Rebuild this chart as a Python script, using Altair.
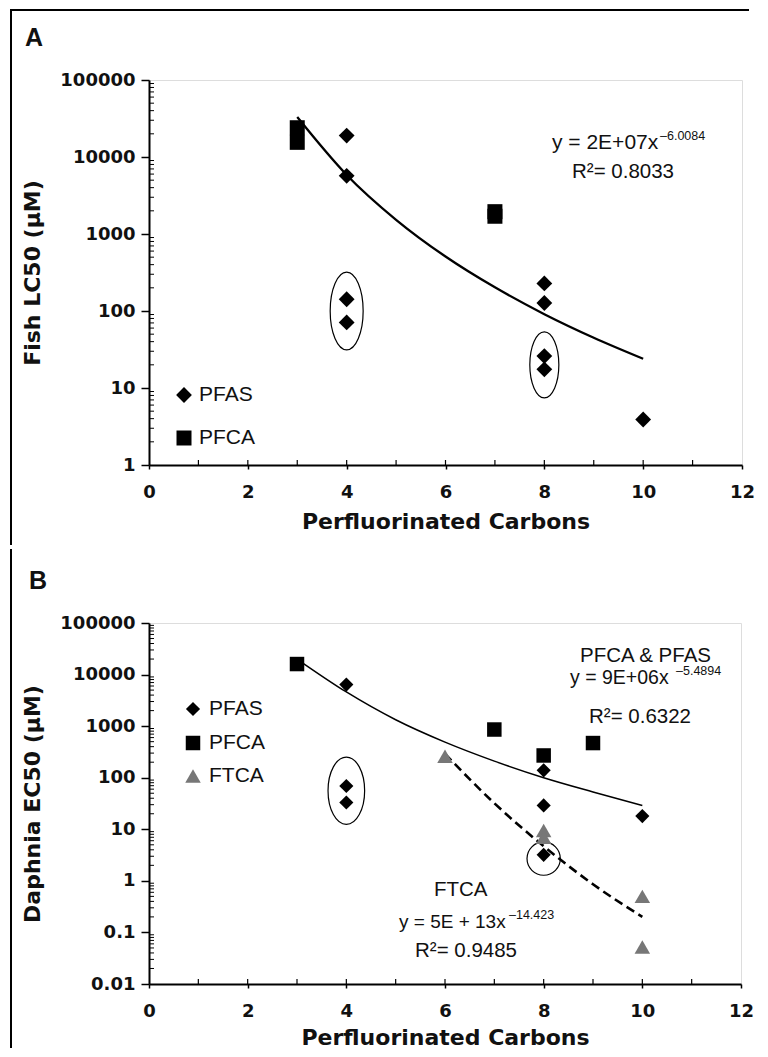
import altair as alt
import pandas as pd

# ---------------- values ----------------
CARBON_TICKS = [0, 2, 4, 6, 8, 10, 12]
CARBON_MINOR = [1, 2, 3, 4, 5, 6, 7, 8, 9, 10, 11]
A_Y_TICKS = [1, 10, 100, 1000, 10000, 100000]
B_Y_TICKS = [0.01, 0.1, 1, 10, 100, 1000, 10000, 100000]
MINOR_MULT = [2, 3, 4, 5, 6, 7, 8, 9]
SERIES = ["PFAS", "PFCA", "FTCA"]

# Panel A : Fish LC50
A_PFAS_X = [4, 4, 4, 4, 8, 8, 8, 8, 10]
A_PFAS_Y = [19000, 5700, 142, 71, 228, 127, 26, 17.5, 3.9]
A_PFCA_X = [3, 3, 7, 7]
A_PFCA_Y = [24000, 15500, 1950, 1700]
A_FIT_X = [3, 4, 5, 6, 7, 8, 9, 10]
A_FIT_Y = [33000, 5850, 1530, 510, 203, 91, 45, 24]
A_RING_X = [4, 8]
A_RING_Y = [100, 20]

# Panel B : Daphnia EC50
B_PFAS_X = [4, 4, 4, 8, 8, 8, 10]
B_PFAS_Y = [6400, 69, 33, 139, 29, 3.2, 18]
B_PFCA_X = [3, 7, 8, 9]
B_PFCA_Y = [16000, 860, 270, 470]
B_FTCA_X = [6, 8, 8, 10, 10]
B_FTCA_Y = [260, 9.5, 7, 0.5, 0.052]
B_FIT_X = [3, 4, 5, 6, 7, 8, 9, 10]
B_FIT_Y = [20000, 4600, 1330, 490, 210, 100, 53, 29]
B_FTFIT_X = [6, 7, 8, 9, 10]
B_FTFIT_Y = [290, 32, 4.7, 0.86, 0.2]
B_RING_X = [4, 8]
B_RING_Y = [56, 2.7]

# ---------------- styling ----------------
BOLD = "DejaVu Sans"
TXT = "Liberation Sans, Arial, Helvetica, sans-serif"
INK = "#111111"
GREY = "#777777"
A_W, A_H = 593, 385
B_W, B_H = 592, 361
ONE = pd.DataFrame({"k": [0]})


def df(xs, ys):
    return pd.DataFrame({"x": xs, "y": ys})


def ellipse_path(rx):
    k = 0.5523
    a = rx
    ka = k * a
    return (f"M0,-1C{ka:.4f},-1 {a:.4f},-{k} {a:.4f},0"
            f"C{a:.4f},{k} {ka:.4f},1 0,1"
            f"C-{ka:.4f},1 -{a:.4f},{k} -{a:.4f},0"
            f"C-{a:.4f},-{k} -{ka:.4f},-1 0,-1Z")


def x_enc(title_pad):
    return alt.X("x:Q", scale=alt.Scale(domain=[0, 12], nice=False, zero=False),
                 axis=alt.Axis(values=CARBON_TICKS, format="d", title="Perfluorinated Carbons",
                               grid=False, domainColor="black", domainWidth=2,
                               tickColor="black", tickWidth=1.5, tickSize=4,
                               labelFont=BOLD, labelFontWeight="bold", labelFontSize=18,
                               labelColor=INK, labelPadding=14, labelFlush=False,
                               labelOverlap=False,
                               titleFont=BOLD, titleFontWeight="bold", titleFontSize=22,
                               titleColor=INK, titlePadding=title_pad))


def y_enc(domain, ticks, title):
    return alt.Y("y:Q", scale=alt.Scale(type="log", domain=domain, nice=False),
                 axis=alt.Axis(values=ticks, format="~g", title=title, grid=False,
                               domainColor="black", domainWidth=2,
                               tickColor="black", tickWidth=1.5, tickSize=8,
                               labelFont=BOLD, labelFontWeight="bold", labelFontSize=18,
                               labelColor=INK, labelPadding=6, labelOverlap=False,
                               titleFont=BOLD, titleFontWeight="bold", titleFontSize=22,
                               titleColor=INK, titlePadding=15))


def text_at(label, px, py, size=21, bold=False, font=TXT, baseline="alphabetic"):
    return alt.Chart(ONE).mark_text(
        text=label, align="left", baseline=baseline, font=font, fontSize=size,
        fontWeight="bold" if bold else "normal", color=INK
    ).encode(x=alt.value(px), y=alt.value(py))


def legend_item(shape, color, size, px, py, label, tx):
    pt = alt.Chart(ONE).mark_point(shape=shape, filled=True, color=color, size=size,
                                   opacity=1).encode(x=alt.value(px), y=alt.value(py))
    return [pt, text_at(label, tx, py, baseline="middle")]


def panel(h, ydom, yticks, ytitle, title_pad):
    X = x_enc(title_pad)
    Y = y_enc(ydom, yticks, ytitle)

    def pts(xs, ys, shape, color, size):
        return alt.Chart(df(xs, ys)).mark_point(
            shape=shape, filled=True, color=color, size=size, opacity=1
        ).encode(x=X, y=Y)

    def line(xs, ys, width, dash=None):
        kw = dict(color="black", strokeWidth=width, interpolate="monotone")
        if dash:
            kw["strokeDash"] = dash
        return alt.Chart(df(xs, ys)).mark_line(**kw).encode(x=X, y=Y)

    def ring(xv, yv, rx, size):
        return alt.Chart(df([xv], [yv])).mark_point(
            shape=ellipse_path(rx), filled=False, stroke="black", strokeWidth=1.2,
            size=size, opacity=1
        ).encode(x=X, y=Y)

    decades = []
    d = ydom[0]
    while d < ydom[1]:
        decades.append(d)
        d *= 10
    minor_y = [m * dd for dd in decades for m in MINOR_MULT]
    xminor = alt.Chart(pd.DataFrame({"x": CARBON_MINOR})).mark_rule(
        color="black", strokeWidth=1.2).encode(x=X, y=alt.value(h), y2=alt.value(h - 5))
    yminor = alt.Chart(pd.DataFrame({"y": minor_y})).mark_rule(
        color="black", strokeWidth=1).encode(y=Y, x=alt.value(0), x2=alt.value(5))
    return pts, line, ring, xminor, yminor


# ---------------- panel A ----------------
pts, line, ring, xminor, yminor = panel(A_H, [1, 100000], A_Y_TICKS, "Fish LC50 (µM)", 10)
frameA_left = alt.Chart(ONE).mark_rule(color="black", strokeWidth=2).encode(
    x=alt.value(-138), y=alt.value(-70), y2=alt.value(A_H + 80))
frameA_top = alt.Chart(ONE).mark_rule(color="black", strokeWidth=2).encode(
    x=alt.value(-139), x2=alt.value(600), y=alt.value(-70))

layersA = [
    frameA_left, frameA_top, xminor, yminor,
    ring(A_RING_X[0], A_RING_Y[0], 0.425, 6020),
    ring(A_RING_X[1], A_RING_Y[1], 0.44, 4356),
    line(A_FIT_X, A_FIT_Y, 2.3),
    pts(A_PFCA_X, A_PFCA_Y, "square", "black", 225),
    pts(A_PFAS_X, A_PFAS_Y, "diamond", "black", 250),
    text_at("A", -124, -34, size=25, bold=True),
    text_at("y = 2E+07x", 403, 69, size=21),
    text_at("–6.0084", 511, 60, size=12.5),
    text_at("R²= 0.8033", 423, 98, size=20.5),
]
layersA += legend_item("diamond", "black", 250, 35, 315, SERIES[0], 50)
layersA += legend_item("square", "black", 225, 35, 358, SERIES[1], 50)
chartA = alt.layer(*layersA).properties(width=A_W, height=A_H)

# ---------------- panel B ----------------
pts, line, ring, xminor, yminor = panel(B_H, [0.01, 100000], B_Y_TICKS, "Daphnia EC50 (µM)", 7)
frameB_left = alt.Chart(ONE).mark_rule(color="black", strokeWidth=2).encode(
    x=alt.value(-138), y=alt.value(-74), y2=alt.value(B_H + 64))

layersB = [
    frameB_left, xminor, yminor,
    ring(B_RING_X[0], B_RING_Y[0], 0.544, 4530),
    ring(B_RING_X[1], B_RING_Y[1], 1.0, 1110),
    line(B_FIT_X, B_FIT_Y, 1.5),
    line(B_FTFIT_X, B_FTFIT_Y, 2.6, dash=[9, 5]),
    pts(B_FTCA_X, B_FTCA_Y, "triangle-up", GREY, 240),
    pts(B_PFCA_X, B_PFCA_Y, "square", "black", 210),
    pts(B_PFAS_X, B_PFAS_Y, "diamond", "black", 200),
    text_at("B", -120, -34, size=25, bold=True),
    text_at("PFCA & PFAS", 431, 39, size=20.5),
    text_at("y = 9E+06x", 421, 61, size=19.5),
    text_at("–5.4894", 527, 52, size=12.5),
    text_at("R²= 0.6322", 440, 100, size=20.5),
    text_at("FTCA", 285, 273, size=20.5),
    text_at("y = 5E + 13x", 250, 305, size=19),
    text_at("–14.423", 360, 296, size=12.5),
    text_at("R²= 0.9485", 266, 334, size=20.5),
]
layersB += legend_item("diamond", "black", 200, 44, 86, SERIES[0], 60)
layersB += legend_item("square", "black", 210, 44, 120, SERIES[1], 60)
layersB += legend_item("triangle-up", GREY, 240, 44, 153, SERIES[2], 60)
chartB = alt.layer(*layersB).properties(width=B_W, height=B_H)

chart = alt.concat(chartA, chartB, columns=1, spacing=0).properties(
    padding={"left": 0, "top": 0, "right": 0, "bottom": 0}
).configure_view(stroke="#222222", strokeWidth=1.3).configure(background="white")

chart.save("out.html", embed_options={"renderer": "svg", "actions": False})
